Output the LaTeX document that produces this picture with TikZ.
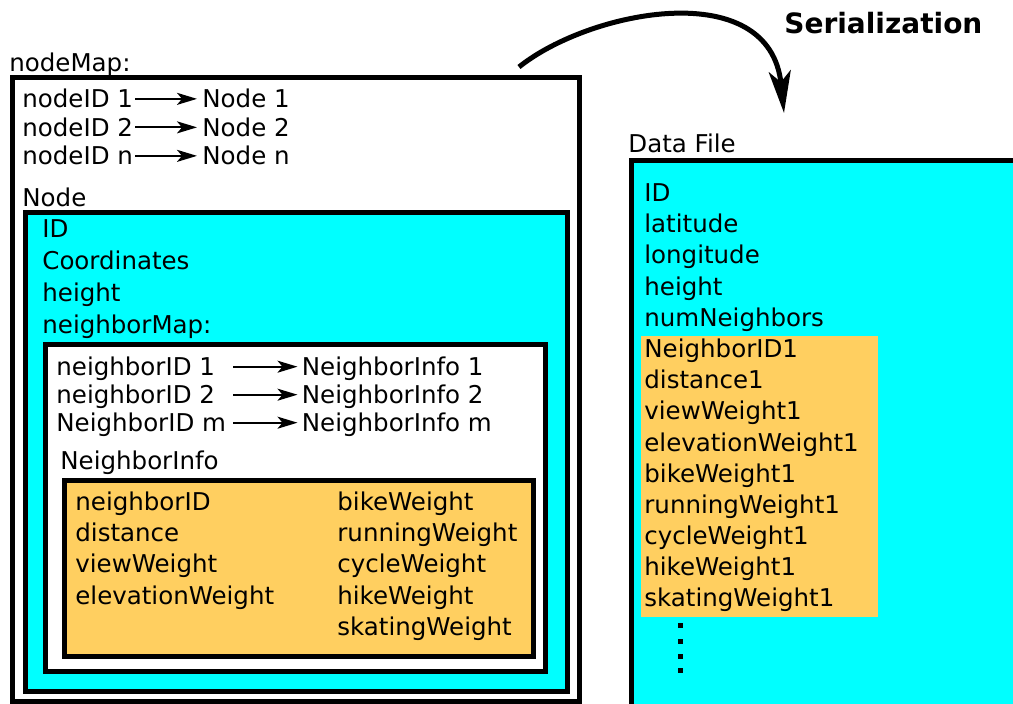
\documentclass[tikz,border=0pt]{standalone}
\usepackage{fontspec}
\setmainfont{DejaVu Sans}
\usetikzlibrary{arrows.meta}
\definecolor{boxcyan}{RGB}{0,255,255}
\definecolor{boxorange}{RGB}{255,207,96}

\begin{document}
\begin{tikzpicture}[x=0.5pt,y=-0.5pt,
  lbl/.style={anchor=base west, inner sep=0pt, font=\fontsize{12.25pt}{14pt}\selectfont},
  frame/.style={draw=black, line width=2.5pt},
  maparrow/.style={-{Stealth[length=10pt,width=6pt,inset=2.5pt]}, line width=1pt},
  serarrow/.style={-{Stealth[length=21pt,width=11pt,inset=5.5pt]}, line width=2.5pt},
  ]
\useasboundingbox (0,0) rectangle (1013,704);
\fill[white] (0,0) rectangle (1013,704);

% ---------- nodeMap structure ----------
\draw[frame, fill=white]      (12.5,77.5)  rectangle (579,701.5);
\draw[frame, fill=boxcyan]    (25.5,212.5) rectangle (567.5,692);
\draw[frame, fill=white]      (45.5,344.5) rectangle (545.5,671.5);
\draw[frame, fill=boxorange]  (64.5,480.5) rectangle (533,656.5);

\node[lbl] (nodemap) at (9,72) {nodeMap:};

\foreach \k/\v/\y [count=\i] in {nodeID 1/Node 1/108, nodeID 2/Node 2/136.5, nodeID n/Node n/165}{
  \node[lbl] (nid\i) at (22,\y) {\k};
  \node[lbl] (nd\i) at (202,\y) {\v};
  \draw[maparrow, shorten <=1pt, shorten >=2.5pt] (nid\i.east) -- (nd\i.west);
}

\node[lbl] (nodelbl) at (22,207) {Node};
\foreach \t/\y [count=\i] in {ID/238, Coordinates/270, height/302, neighborMap:/334}{
  \node[lbl] (nf\i) at (42,\y) {\t};
}

\foreach \k/\v/\y [count=\i] in {neighborID 1/NeighborInfo 1/376, neighborID 2/NeighborInfo 2/404, NeighborID m/NeighborInfo m/432}{
  \node[lbl] (nbid\i) at (56,\y) {\k};
  \node[lbl] (nbinfo\i) at (301.5,\y) {\v};
  \coordinate (nbstart\i) at (233,\y-9.3);
  \draw[maparrow, shorten >=2pt] (nbstart\i) -- (nbstart\i -| nbinfo\i.west);
}

\node[lbl] (infolbl) at (60,470) {NeighborInfo};
\foreach \t/\y [count=\i] in {neighborID/511, distance/542, viewWeight/573, elevationWeight/605}{
  \node[lbl] (ia\i) at (75,\y) {\t};
}
\foreach \t/\y [count=\i] in {bikeWeight/511, runningWeight/542, cycleWeight/573, hikeWeight/605, skatingWeight/636}{
  \node[lbl] (ib\i) at (337,\y) {\t};
}

% ---------- data file ----------
\draw[frame, fill=boxcyan] (631.5,160.5) rectangle (1030,720);
\fill[boxorange] (641,336) rectangle (878,617);
\node[lbl] (datalbl) at (628,153) {Data File};
\foreach \t/\y [count=\i] in {ID/202, latitude/233, longitude/264, height/295.5, numNeighbors/327,
  NeighborID1/358, distance1/389, viewWeight1/420, elevationWeight1/451.5, bikeWeight1/483,
  runningWeight1/514, cycleWeight1/545, hikeWeight1/576, skatingWeight1/607}{
  \node[lbl] (df\i) at (644,\y) {\t};
}
\foreach \y in {625.5,641.5,656.5,670.5}{
  \fill (678,\y-2.5) rectangle (683,\y+2.5);
}

% ---------- serialization arrow ----------
\node[anchor=base west, inner sep=0pt, font=\bfseries\fontsize{14pt}{16pt}\selectfont] (ser) at (784,34) {Serialization};
\coordinate (serFrom) at (519,67);
\coordinate (serTo) at (784,113);
\draw[serarrow] (serFrom) .. controls (590,10) and (770,-25) .. (serTo);
\end{tikzpicture}
\end{document}
